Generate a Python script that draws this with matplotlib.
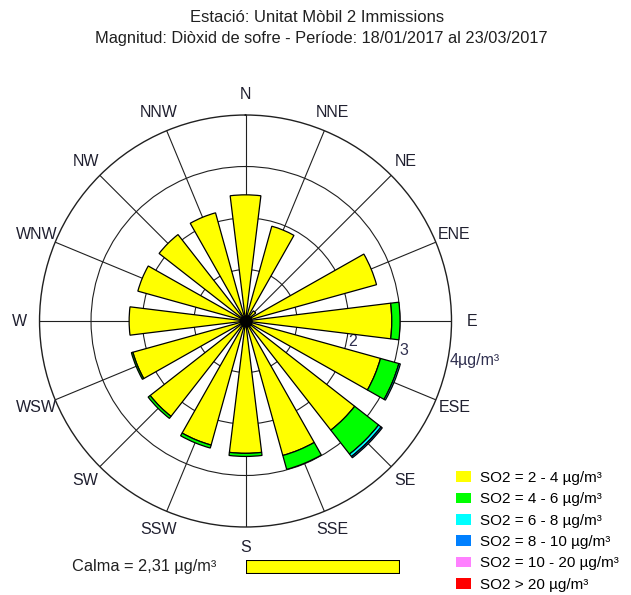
import numpy as np
import matplotlib
matplotlib.use("Agg")
import matplotlib.pyplot as plt
from matplotlib.patches import Patch

plt.rcParams['font.family'] = ['Liberation Sans', 'DejaVu Sans']

# --- data (radial units of the rose) ---
directions = ['N', 'NNE', 'NE', 'ENE', 'E', 'ESE', 'SE', 'SSE',
              'S', 'SSW', 'SW', 'WSW', 'W', 'WNW', 'NW', 'NNW']
so2_2_4 = [2.45, 1.91, 0.25, 2.64, 2.84, 2.72, 2.69, 2.71,
           2.57, 2.50, 2.35, 2.27, 2.26, 2.17, 2.13, 2.18]
so2_4_6 = [0, 0, 0, 0, 0.16, 0.37, 0.59, 0.28,
           0.06, 0.06, 0.05, 0.03, 0, 0, 0, 0]
so2_6_8 = [0, 0, 0, 0, 0, 0.03, 0.06, 0,
           0, 0, 0, 0, 0, 0, 0, 0]
so2_8_10 = [0, 0, 0, 0, 0, 0, 0.03, 0,
            0, 0, 0, 0, 0, 0, 0, 0]
so2_10_20 = [0] * 16
so2_20 = [0] * 16
class_labels = ['SO2 = 2 - 4 µg/m³', 'SO2 = 4 - 6 µg/m³', 'SO2 = 6 - 8 µg/m³',
                'SO2 = 8 - 10 µg/m³', 'SO2 = 10 - 20 µg/m³', 'SO2 > 20 µg/m³']
class_colors = ['#ffff00', '#00ff00', '#00ffff', '#0080ff', '#ff80ff', '#ff0000']
ring_values = [1, 2, 3, 4]
ring_labels = ['', '2', '3', '4µg/m³']
calma = 2.31

series = [so2_2_4, so2_4_6, so2_6_8, so2_8_10, so2_10_20, so2_20]

fig = plt.figure(figsize=(6.31, 5.95), dpi=100)
ax = fig.add_axes([0.0626, 0.1143, 0.653, 0.6924], projection='polar')
ax.set_theta_zero_location('N')
ax.set_theta_direction(-1)

theta = np.radians(np.arange(len(directions)) * 22.5)
width = np.radians(14)

ax.set_axisbelow(True)
bottom = np.zeros(len(directions))
for vals, col in zip(series, class_colors):
    vals = np.array(vals, dtype=float)
    mask = vals > 0
    if mask.any():
        ax.bar(theta[mask], vals[mask], width=width, bottom=bottom[mask],
               color=col, edgecolor='black', linewidth=0.9, zorder=3)
    bottom += vals

ax.plot([0], [0], 'o', color='black', ms=8, zorder=5)

ax.set_ylim(0, 4)
ax.set_yticks(ring_values[:-1])
ax.set_yticklabels([])
ax.set_xticks(theta)
ax.set_xticklabels([])
ax.grid(True, color='#202020', lw=0.8)
ax.spines['polar'].set_color('#202020')
ax.spines['polar'].set_linewidth(1.0)

for t, name in zip(theta, directions):
    ax.text(t, 4.39, name, ha='center', va='center', fontsize=11.5, color='#202030')

for r, lab in zip(ring_values, ring_labels):
    ax.text(np.radians(101), r + 0.04, lab, ha='left', va='center',
            fontsize=11.5, color='#303050', zorder=2)

fig.text(0.503, 1 - 17 / 595, 'Estació: Unitat Mòbil 2 Immissions',
         ha='center', va='center', fontsize=12, color='#202020')
fig.text(0.51, 1 - 38 / 595, 'Magnitud: Diòxid de sofre - Període: 18/01/2017 al 23/03/2017',
         ha='center', va='center', fontsize=11.8, color='#202020')

handles = [Patch(facecolor=c, edgecolor='none') for c in class_colors]
fig.legend(handles, class_labels, loc='upper left',
           bbox_to_anchor=(456 / 631, 1 - 471 / 595), frameon=False,
           fontsize=11, handlelength=0.98, handleheight=0.72,
           handletextpad=0.59, labelspacing=0.48, borderaxespad=0, borderpad=0)

fig.text(72 / 631, 1 - 567 / 595, f'Calma = {calma:.2f} µg/m³'.replace('.', ','),
         ha='left', va='center', fontsize=11.8, color='#202020')

cax = fig.add_axes([246 / 631, 1 - 574 / 595, 154 / 631, 14 / 595])
cax.barh([0], [calma], height=1, color='#ffff00', edgecolor='black', linewidth=1.5)
cax.set_xlim(0, calma)
cax.set_ylim(-0.5, 0.5)
cax.axis('off')

fig.savefig('out.png', dpi=100)
